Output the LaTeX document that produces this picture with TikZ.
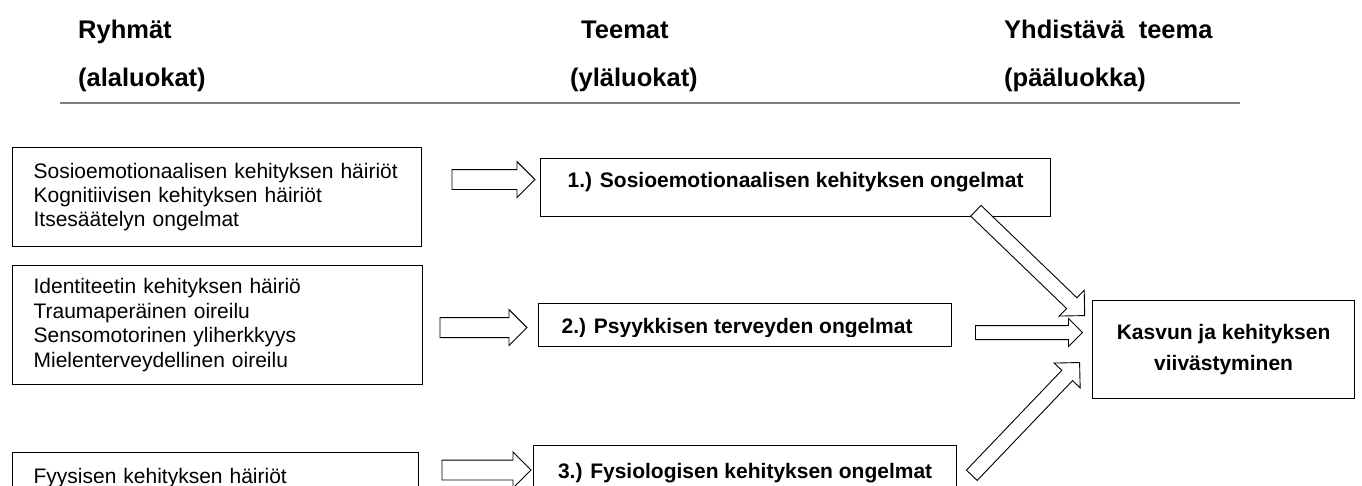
\documentclass[tikz,border=0pt]{standalone}
\usepackage{fontspec}
\setmainfont{Liberation Sans}
\usetikzlibrary{calc,shapes.arrows}

% hollow block arrow between two points
\newcommand\blockarr[4][]{%
  \path let \p1=(#3), \p2=(#4),
            \n1={atan2(\y2-\y1,\x2-\x1)}, \n2={veclen(\x2-\x1,\y2-\y1)} in
    node[hollow, #1, minimum height=\n2, rotate=\n1] (#2) at ($(\p1)!0.5!(\p2)$) {};}

\begin{document}
\begin{tikzpicture}[x=1pt, y=-1pt,
  grp/.style={draw, line width=1.2pt, anchor=north west, align=left,
              inner xsep=21pt, font=\fontsize{21}{24.4}\selectfont},
  theme/.style={draw, line width=1.2pt, anchor=north west, align=center,
                font=\bfseries\fontsize{21}{31}\selectfont},
  hdr/.style={anchor=base west, inner sep=0pt,
              font=\bfseries\fontsize{25.5}{30}\selectfont},
  hollow/.style={single arrow, draw, fill=white, line width=0.9pt,
                 inner xsep=0pt, inner ysep=9.5pt,
                 single arrow head extend=8pt, single arrow tip angle=90},
  slim/.style={inner ysep=6.5pt, single arrow head extend=7pt},
  diag/.style={inner ysep=7pt, single arrow head extend=10.5pt}]
\useasboundingbox (0,0) rectangle (1362,486);
\clip (0,0) rectangle (1362,486);

% otsikot
\node[hdr] (h1)  at (78,39)   {Ryhmät};
\node[hdr] (h1b) at (78,87)   {(alaluokat)};
\node[hdr] (h2)  at (581,39)  {Teemat};
\node[hdr] (h2b) at (570,87)  {(yläluokat)};
\node[hdr] (h3)  at (1004,39) {Yhdistävä\ \ teema};
\node[hdr] (h3b) at (1004,87) {(pääluokka)};
\draw[gray, line width=2pt] (60,103) -- (1240,103);

% alaluokat
\node[grp, minimum width=409pt, minimum height=99pt, text width=367pt] (a1) at (12,147)
  {Sosioemotionaalisen kehityksen häiriöt\\Kognitiivisen kehityksen häiriöt\\Itsesäätelyn ongelmat};
\node[grp, minimum width=410pt, minimum height=119pt, text width=368pt] (a2) at (12,265)
  {Identiteetin kehityksen häiriö\\Traumaperäinen oireilu\\Sensomotorinen yliherkkyys\\Mielenterveydellinen oireilu};
\node[grp, minimum width=406pt, inner ysep=16pt, text height=15pt, text depth=20pt, text width=364pt] (a3) at (12,452)
  {Fyysisen kehityksen häiriöt};

% yläluokat
\node[theme, minimum width=510pt, inner ysep=14pt, text height=15pt, text depth=15pt] (b1) at (540,158)
  {1.) Sosioemotionaalisen kehityksen ongelmat};
\node[theme, minimum width=413pt, minimum height=43pt] (b2) at (538,303) {};
\begin{scope}
  \clip (b2.north west) rectangle ([yshift=11pt]b2.south east);
  \node[theme, draw=none, anchor=base] (b2t) at ([xshift=-8pt,yshift=-8pt]b2.base) {2.) Psyykkisen terveyden ongelmat};
\end{scope}
\node[theme, minimum width=423pt, inner ysep=18pt, text height=15pt, text depth=20pt] (b3) at (533,445)
  {3.) Fysiologisen kehityksen ongelmat};

% pääluokka
\node[theme, minimum width=262pt, minimum height=98pt] (c) at (1092,300)
  {Kasvun ja kehityksen\\viivästyminen};

% nuolet
\blockarr{ar1}{[xshift=-93pt,yshift=8pt]b1.west}{[xshift=-10pt,yshift=8pt]b1.west}
\blockarr{ar2}{[xshift=-103pt,yshift=-2.5pt]b2.west}{[xshift=-16pt,yshift=-2.5pt]b2.west}
\blockarr{ar3}{[xshift=-96pt,yshift=-25pt]b3.north west}{[xshift=-7pt,yshift=-25pt]b3.north west}
\blockarr[diag]{br1}{[xshift=-78pt,yshift=9pt]b1.south east}{[xshift=-10pt,yshift=-13pt]c.north west}
\blockarr[slim]{br2}{[xshift=-120pt,yshift=17pt]c.west}{[xshift=-13pt,yshift=17pt]c.west}
\blockarr[diag]{br3}{[xshift=12pt,yshift=-33pt]b3.north east}{[xshift=-15pt,yshift=34pt]c.south west}
\end{tikzpicture}
\end{document}
